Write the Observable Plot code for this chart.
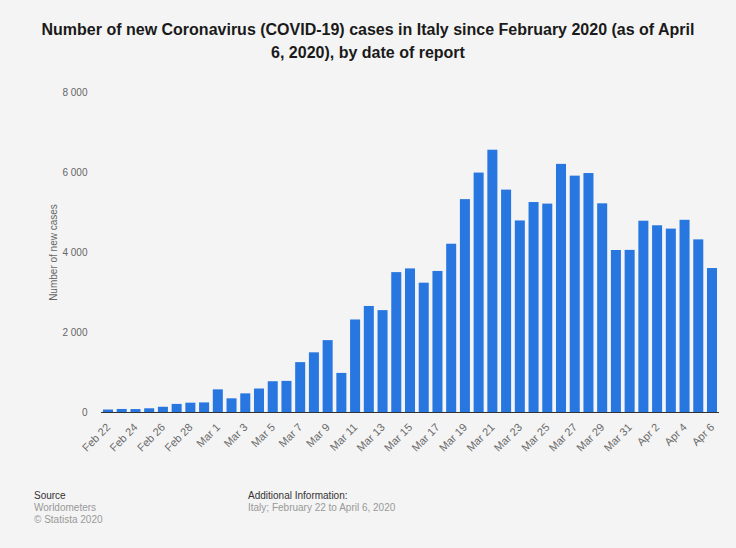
<!DOCTYPE html>
<html>
<head>
<meta charset="utf-8">
<script src="https://cdn.jsdelivr.net/npm/d3@7"></script>
<script src="https://cdn.jsdelivr.net/npm/@observablehq/plot@0.6"></script>
<style>
  html, body { margin: 0; padding: 0; background: #f4f4f4; }
  #wrap { position: relative; width: 736px; height: 548px; background: #f4f4f4; font-family: "Liberation Sans", Arial, sans-serif; overflow: hidden; }
  #title { position: absolute; left: 40px; width: 656px; top: 18px; text-align: center; font-family: "Liberation Sans Narrow", "Liberation Sans", Arial, sans-serif; font-weight: bold; font-size: 16px; line-height: 23px; color: #1a1a1a; }
  #chart { position: absolute; left: 0; top: 70px; }
  .foot { position: absolute; font-size: 10px; line-height: 12px; }
  .foot .h { color: #333; }
  .foot .g { color: #999; }
</style>
</head>
<body>
<div id="wrap">
  <div id="title">Number of new Coronavirus (COVID-19) cases in Italy since February 2020 (as of April 6, 2020), by date of report</div>
  <div id="chart"></div>
  <div class="foot" style="left:34px; top:490px;"><div class="h">Source</div><div class="g">Worldometers</div><div class="g">© Statista 2020</div></div>
  <div class="foot" style="left:248px; top:490px;"><div class="h">Additional Information:</div><div class="g">Italy; February 22 to April 6, 2020</div></div>
</div>
<script>
const dates = [
  "Feb 22","Feb 23","Feb 24","Feb 25","Feb 26","Feb 27","Feb 28","Feb 29",
  "Mar 1","Mar 2","Mar 3","Mar 4","Mar 5","Mar 6","Mar 7","Mar 8","Mar 9","Mar 10",
  "Mar 11","Mar 12","Mar 13","Mar 14","Mar 15","Mar 16","Mar 17","Mar 18","Mar 19","Mar 20",
  "Mar 21","Mar 22","Mar 23","Mar 24","Mar 25","Mar 26","Mar 27","Mar 28","Mar 29","Mar 30","Mar 31",
  "Apr 1","Apr 2","Apr 3","Apr 4","Apr 5","Apr 6"
];
const newCases = [
  62, 76, 74, 93, 131, 202, 233, 240,
  566, 342, 466, 587, 769, 778, 1247, 1492, 1797, 977,
  2313, 2651, 2547, 3497, 3590, 3233, 3526, 4207, 5322, 5986,
  6557, 5560, 4789, 5249, 5210, 6203, 5909, 5974, 5217, 4050, 4053,
  4782, 4668, 4585, 4805, 4316, 3599
];
const xTicks = ["Feb 22","Feb 24","Feb 26","Feb 28","Mar 1","Mar 3","Mar 5","Mar 7","Mar 9","Mar 11","Mar 13","Mar 15","Mar 17","Mar 19","Mar 21","Mar 23","Mar 25","Mar 27","Mar 29","Mar 31","Apr 2","Apr 4","Apr 6"];
const yTicks = [0, 2000, 4000, 6000, 8000];

const data = dates.map((d, i) => ({date: d, value: newCases[i]}));
const fmt = v => d3.format(",")(v).replace(/,/g, " ");

const chart = Plot.plot({
  width: 736,
  height: 410,
  marginTop: 22,
  marginBottom: 68,
  marginLeft: 101,
  marginRight: 17,
  style: { background: "transparent", fontFamily: "Liberation Sans, Arial, sans-serif", color: "#666" },
  x: { domain: dates, paddingInner: 0.27, paddingOuter: 0.145 },
  y: { domain: [0, 8000] },
  marks: [
    Plot.barY(data, { x: "date", y: "value", fill: "#2877e0" }),
    Plot.ruleY([0], { stroke: "#333", strokeWidth: 1.2 }),
    Plot.axisY({ ticks: yTicks, tickFormat: fmt, tickSize: 0, tickPadding: 14, fontSize: 10, fill: "#666", label: "Number of new cases", labelAnchor: "center", labelArrow: "none", labelOffset: 52 }),
    Plot.axisX({ ticks: xTicks, tickSize: 0, tickPadding: 13, tickRotate: -45, fontSize: 11, fill: "#6a6a6a", label: null })
  ]
});
document.getElementById("chart").appendChild(chart);
</script>
</body>
</html>
